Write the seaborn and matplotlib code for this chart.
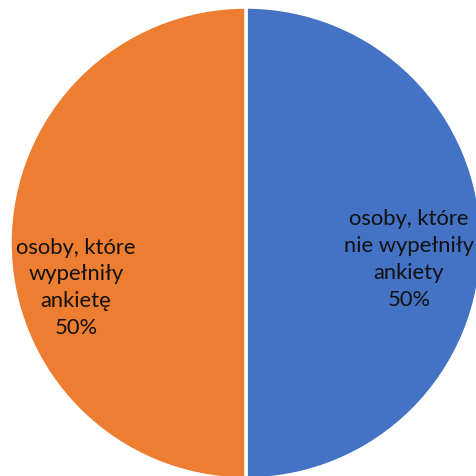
import matplotlib
matplotlib.use("Agg")
import matplotlib.pyplot as plt
import seaborn as sns

labels = ["osoby, które\nnie wypełniły\nankiety", "osoby, które\nwypełniły\nankietę"]
values = [50, 50]
colors = ["#4472C4", "#ED7D31"]

sns.set_theme(style="white")
plt.rcParams["font.family"] = ["Lato", "DejaVu Sans"]

fig = plt.figure(figsize=(4.76, 4.76), dpi=100)
ax = fig.add_axes([0.021, -0.0063, 0.9916, 0.9916])

wedges, _ = ax.pie(
    values,
    colors=colors,
    startangle=90,
    counterclock=False,
    radius=1.0,
    wedgeprops=dict(edgecolor="white", linewidth=2.5),
)
ax.set_xlim(-1, 1)
ax.set_ylim(-1, 1)
ax.set_aspect("equal")

total = sum(values)
label_pos = [(0.69, -0.07), (-0.72, -0.19)]
for lab, v, (x, y) in zip(labels, values, label_pos):
    ax.text(x, y, f"{lab}\n{v / total:.0%}", ha="center", va="center",
            fontsize=15.8, color="#111111", linespacing=1.42)

ax.axis("off")
fig.savefig("out.png", dpi=100)
